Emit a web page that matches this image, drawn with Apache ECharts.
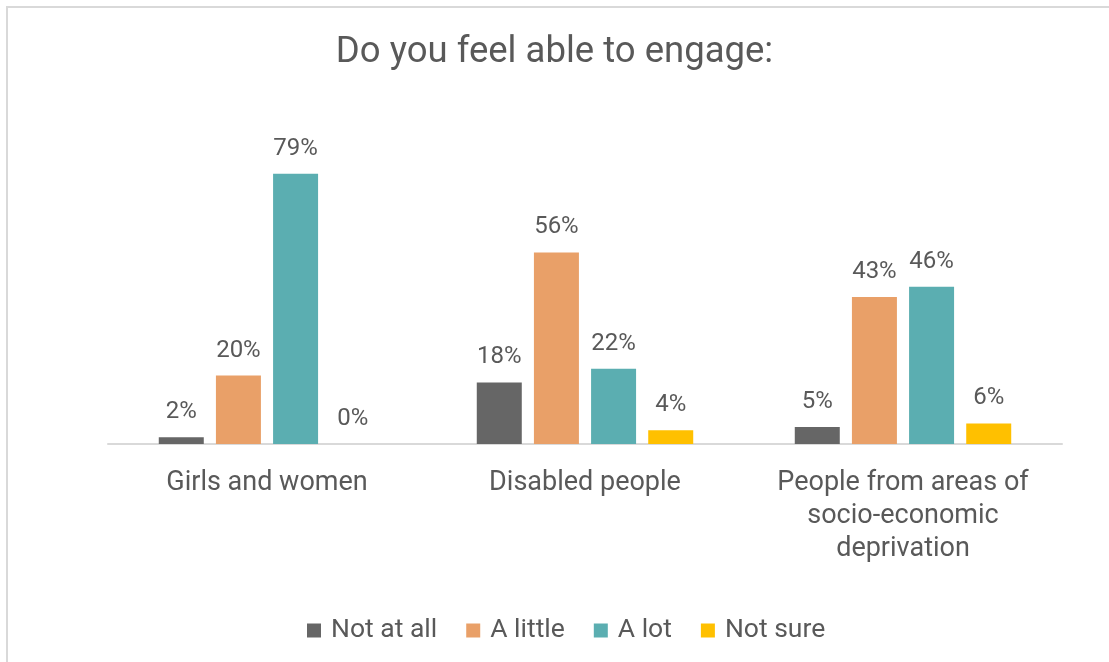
<!DOCTYPE html>
<html>
<head>
<meta charset="utf-8">
<script src="https://cdn.jsdelivr.net/npm/echarts@6/dist/echarts.min.js"></script>
<style>
  html, body { margin: 0; padding: 0; background: #ffffff; }
  #chart { width: 1109px; height: 662px; }
</style>
</head>
<body>
<div id="chart"></div>
<script>
// Survey groups and response shares (%)
var categories = ['Girls and women', 'Disabled people', 'People from areas of\nsocio-economic\ndeprivation'];
var seriesNames = ['Not at all', 'A little', 'A lot', 'Not sure'];
var notAtAll = [2, 18, 5];
var aLittle = [20, 56, 43];
var aLot = [79, 22, 46];
var notSure = [0, 4, 6];
var colors = ['#666666', '#E9A068', '#5BAEB1', '#FFC000'];

var textColor = '#595959';
var fontFamily = 'Roboto, "Noto Sans", sans-serif';

var values = [notAtAll, aLittle, aLot, notSure];
var series = seriesNames.map(function (name, i) {
  return {
    name: name,
    type: 'bar',
    data: values[i],
    barWidth: 45,
    barGap: '27%',
    itemStyle: { color: colors[i] },
    label: {
      show: true,
      position: 'top',
      distance: 13,
      formatter: '{c}%',
      color: textColor,
      fontSize: 24,
      fontFamily: fontFamily
    }
  };
});

var chart = echarts.init(document.getElementById('chart'), null, { renderer: 'canvas' });
chart.setOption({
  animation: false,
  color: colors,
  title: {
    text: 'Do you feel able to engage:',
    left: 'center',
    top: 29,
    textStyle: { color: textColor, fontSize: 36.5, fontWeight: 'normal', fontFamily: fontFamily }
  },
  legend: {
    bottom: 13,
    left: 302,
    itemWidth: 14,
    itemHeight: 14,
    itemGap: 29,
    icon: 'rect',
    textStyle: { color: textColor, fontSize: 26.5, fontFamily: fontFamily, padding: [0, 0, 0, 5] }
  },
  grid: { left: 108, right: 47, top: 102, bottom: 218, containLabel: false },
  xAxis: {
    type: 'category',
    data: categories,
    axisLine: { lineStyle: { color: '#D9D9D9', width: 2 } },
    axisTick: { show: false },
    axisLabel: {
      color: textColor,
      fontSize: 27,
      fontFamily: fontFamily,
      lineHeight: 33,
      margin: 23,
      interval: 0
    }
  },
  yAxis: {
    type: 'value',
    min: 0,
    max: 100,
    show: false,
    splitLine: { show: false }
  },
  graphic: [
    { type: 'line', shape: { x1: 6, y1: 7, x2: 1109, y2: 7 }, style: { stroke: '#D9D9D9', lineWidth: 2 } },
    { type: 'line', shape: { x1: 7, y1: 6, x2: 7, y2: 662 }, style: { stroke: '#D9D9D9', lineWidth: 2 } }
  ],
  series: series
});
</script>
</body>
</html>
